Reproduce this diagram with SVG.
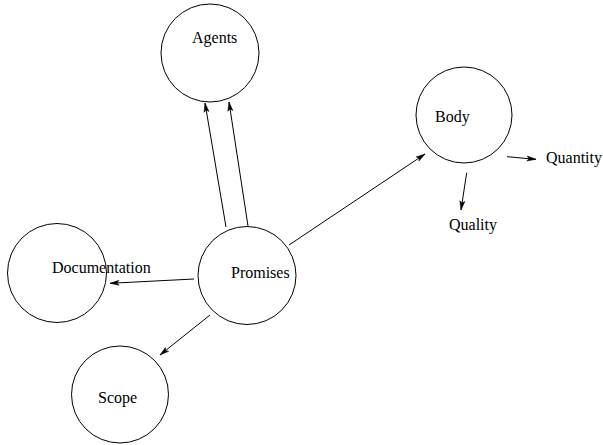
<svg xmlns="http://www.w3.org/2000/svg" width="603" height="445" viewBox="0 0 603 445">
<style>
.n{fill:none;stroke:#000;stroke-width:1}
.t{font-family:"Liberation Serif",serif;font-size:16px;fill:#000}
.c{stroke:#000;stroke-width:1;fill:none;marker-end:url(#a)}
</style>
<defs>
<marker id="a" markerWidth="12" markerHeight="8" refX="10" refY="4" orient="auto" markerUnits="userSpaceOnUse">
<path d="M1,1.5 L10,4 L1,6.5 L3,4 Z" fill="#000" stroke="#000" stroke-width="0.5"/>
</marker>
</defs>
<rect width="603" height="445" fill="#fff"/>
<g id="agents"><circle class="n" cx="210" cy="53" r="49"/><text class="t" x="192" y="43">Agents</text></g>
<g id="body"><circle class="n" cx="464" cy="115" r="48"/><text class="t" x="435" y="122">Body</text></g>
<g id="quantity"><text class="t" x="546" y="163">Quantity</text></g>
<g id="quality"><text class="t" x="449" y="230">Quality</text></g>
<g id="documentation"><circle class="n" cx="57" cy="273" r="49.5"/><text class="t" x="52" y="273">Documentation</text></g>
<g id="promises"><circle class="n" cx="247" cy="275.5" r="49"/><text class="t" x="231" y="278">Promises</text></g>
<g id="scope"><circle class="n" cx="120" cy="394.5" r="48.5"/><text class="t" x="98" y="403">Scope</text></g>
<g id="connectors">
<line class="c" x1="226" y1="227" x2="205" y2="103"/>
<line class="c" x1="248" y1="226" x2="229" y2="102"/>
<line class="c" x1="289" y1="245" x2="425" y2="154"/>
<line class="c" x1="194" y1="279" x2="110" y2="283.3"/>
<line class="c" x1="210" y1="315" x2="160" y2="355"/>
<line class="c" x1="507" y1="156.7" x2="536" y2="159.3"/>
<line class="c" x1="466.7" y1="172.7" x2="461" y2="210"/>
</g>
</svg>
